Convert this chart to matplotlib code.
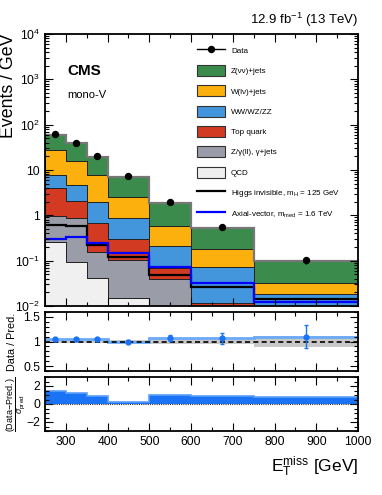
"""CMS mono-V search: MET distribution with stacked backgrounds, ratio and pull panels."""

import matplotlib

matplotlib.use("Agg")
import matplotlib.pyplot as plt
import numpy as np
from matplotlib.lines import Line2D
from matplotlib.patches import Patch
from matplotlib.ticker import FuncFormatter, LogLocator, MultipleLocator, NullFormatter

plt.rcParams["font.family"] = ["Liberation Sans", "DejaVu Sans"]
plt.rcParams["mathtext.fontset"] = "custom"
plt.rcParams["mathtext.rm"] = "Liberation Sans"
plt.rcParams["mathtext.it"] = "Liberation Sans:italic"
plt.rcParams["mathtext.bf"] = "Liberation Sans:bold"
plt.rcParams["mathtext.sf"] = "Liberation Sans"

# binning in E_T^miss [GeV]
edges = [250, 300, 350, 400, 500, 600, 750, 1000]
centers = [275, 325, 375, 450, 550, 675, 875]

# background components, events / GeV (bottom of the stack first)
qcd = [0.26, 0.095, 0.041, 0.0152, 0.005, 0.002, 0.001]
zgamma = [0.69, 0.765, 0.117, 0.088, 0.034, 0.003, 0.002]
top = [3.15, 1.24, 0.53, 0.19, 0.029, 0.0068, 0.004]
diboson = [3.7, 2.57, 1.31, 0.585, 0.146, 0.062, 0.0114]
wjets = [19.8, 11.1, 5.8, 1.7, 0.36, 0.104, 0.0132]
zjets = [31.4, 22.9, 11.9, 4.52, 1.32, 0.352, 0.068]

data = [61, 40, 20.3, 7.3, 1.92, 0.55, 0.104]
data_err = [1.1, 0.9, 0.64, 0.27, 0.14, 0.06, 0.018]

higgs = [0.62, 0.58, 0.22, 0.122, 0.048, 0.026, 0.0145]
axial = [0.30, 0.33, 0.25, 0.15, 0.074, 0.032, 0.0124]

ratio = [1.06, 1.055, 1.045, 1.0, 1.07, 1.065, 1.1]
ratio_err = [0.02, 0.02, 0.025, 0.03, 0.06, 0.11, 0.23]
ratio_unc = [0.03, 0.03, 0.03, 0.03, 0.05, 0.06, 0.12]

pull = [1.41, 1.27, 0.94, 0.18, 1.05, 0.9, 0.73]

labels = ["Z(νν)+jets", "W(lν)+jets", "WW/WZ/ZZ", "Top quark",
          "Z/γ(ll), γ+jets", "QCD"]
colors = ["#3b8c4c", "#fbb00d", "#4396dc", "#d23a22", "#9a9da8", "#f0f0f0"]

BLUE = "#1a72f5"

fig = plt.figure(figsize=(3.82, 4.95), dpi=100)
L, R = 45 / 382, 358 / 382
ax = fig.add_axes([L, 1 - 306 / 495, R - L, (306 - 34) / 495])
axr = fig.add_axes([L, 1 - 371 / 495, R - L, (371 - 312) / 495])
axp = fig.add_axes([L, 1 - 431 / 495, R - L, (431 - 377) / 495])

# stacked backgrounds
comps = [qcd, zgamma, top, diboson, wjets, zjets]
base = np.full(len(centers), 1e-5)
for comp, col in zip(comps, colors[::-1]):
    topv = base + np.array(comp)
    ax.stairs(topv, edges, baseline=base, fill=True, facecolor=col,
              edgecolor="#222222", linewidth=0.7)
    base = topv
ax.stairs(base, edges, baseline=None, color="#777777", linewidth=1.6)

ax.stairs(higgs, edges, baseline=None, color="black", linewidth=1.6)
ax.stairs(axial, edges, baseline=None, color="#0000ff", linewidth=1.6)

ax.errorbar(centers, data, yerr=data_err, fmt="o", color="black",
            ms=4.3, elinewidth=1, capsize=0, zorder=5)


def log_label(v, pos):
    n = int(round(np.log10(v)))
    if n == 0:
        return "1"
    if n == 1:
        return "10"
    return r"$10^{%d}$" % n


ax.set_yscale("log")
ax.set_ylim(1e-2, 1e4)
ax.set_xlim(250, 1000)
ax.yaxis.set_major_locator(LogLocator(base=10, numticks=10))
ax.yaxis.set_major_formatter(FuncFormatter(log_label))
ax.yaxis.set_minor_locator(LogLocator(base=10, subs=np.arange(2, 10), numticks=20))
ax.yaxis.set_minor_formatter(NullFormatter())
ax.set_xticklabels([])
ax.set_ylabel("Events / GeV", fontsize=12.8, loc="top")
ax.yaxis.set_label_coords(-0.088, 1.0)

ax.text(0.07, 0.865, "CMS", transform=ax.transAxes, fontsize=11,
        fontweight="bold", va="center")
ax.text(0.07, 0.775, "mono-V", transform=ax.transAxes, fontsize=8,
        va="center")
fig.text(R, 1 - 20 / 495, r"12.9 fb$^{-1}$ (13 TeV)", fontsize=9.5,
         ha="right", va="center")

handles = [Line2D([], [], color="black", marker="o", ms=4.3, lw=1)]
handles += [Patch(facecolor=c, edgecolor="#333333", linewidth=0.8) for c in colors]
handles += [Line2D([], [], color="black", lw=1.6),
            Line2D([], [], color="#0000ff", lw=1.6)]
leg_labels = ["Data"] + labels + [
    r"Higgs invisible, m$_{\mathrm{H}}$ = 125 GeV",
    r"Axial-vector, m$_{\mathrm{med}}$ = 1.6 TeV"]
ax.legend(handles, leg_labels, loc="upper left", bbox_to_anchor=(0.476, 0.972),
          frameon=False, fontsize=5.75, handlelength=3.5, handleheight=1.75,
          labelspacing=1.16, borderaxespad=0, handletextpad=0.75)

# ratio panel
lo = 1 - np.array(ratio_unc)
hi = 1 + np.array(ratio_unc)
axr.stairs(hi, edges, baseline=lo, fill=True, color="#c8c8c8", linewidth=0)
axr.axhline(1, color="black", linestyle=(0, (3, 2)), linewidth=1.2)
axr.stairs(ratio, edges, baseline=None, color="#6aaaf8", linewidth=2)
axr.errorbar(centers, ratio, yerr=ratio_err, fmt="o", color=BLUE, ms=3.5,
             elinewidth=1, capsize=1.5, zorder=5)
axr.set_xlim(250, 1000)
axr.set_ylim(0.4, 1.6)
axr.set_yticks([0.5, 1, 1.5], ["0.5", "1", "1.5"])
axr.yaxis.set_minor_locator(MultipleLocator(0.1))
axr.set_xticklabels([])
axr.set_ylabel("Data / Pred.", fontsize=7.8)
axr.yaxis.set_label_coords(-0.088, 0.5)

# pull panel
axp.stairs(pull, edges, baseline=0, fill=True, color=BLUE, linewidth=0)
axp.stairs(pull, edges, baseline=None, color="#5a9ffa", linewidth=1.2)
axp.axhline(0, color="#333333", linestyle=(0, (1, 1)), linewidth=0.8)
axp.set_xlim(250, 1000)
axp.set_ylim(-3, 3)
axp.set_yticks([-2, 0, 2], ["−2", "0", "2"])
axp.yaxis.set_minor_locator(MultipleLocator(0.5))
axp.set_ylabel(r"$\dfrac{\mathrm{(Data\!-\!Pred.)}}{\sigma_{\mathrm{pred}}}$",
               fontsize=6.5)
axp.yaxis.set_label_coords(-0.057, 0.5)
axp.set_xlabel(r"E$_{\mathrm{T}}^{\mathrm{miss}}$ [GeV]", fontsize=12.5,
               loc="right", labelpad=5)

for a in (ax, axr, axp):
    a.xaxis.set_major_locator(MultipleLocator(100))
    a.xaxis.set_minor_locator(MultipleLocator(50))
    a.tick_params(which="both", direction="in", top=True, right=True,
                  labelsize=8.7, width=0.8)
    a.tick_params(which="major", length=6)
    a.tick_params(which="minor", length=3)
    for s in a.spines.values():
        s.set_linewidth(1.3)

fig.savefig("out.png", dpi=100)
